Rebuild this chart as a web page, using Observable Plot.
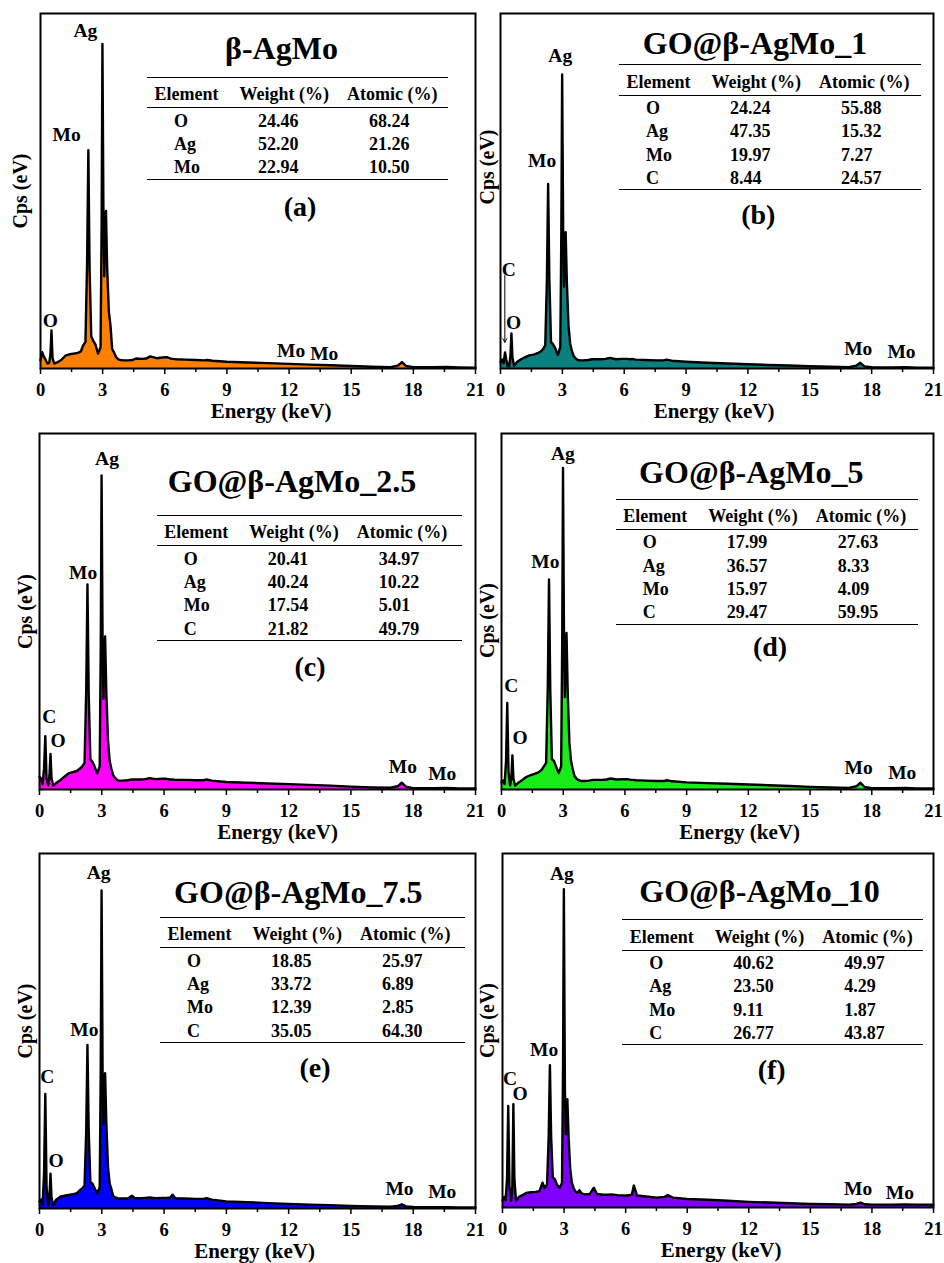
<!DOCTYPE html>
<html>
<head>
<meta charset="utf-8">
<script src="https://cdn.jsdelivr.net/npm/d3@7"></script>
<script src="https://cdn.jsdelivr.net/npm/@observablehq/plot@0.6"></script>
<style>
  html, body { margin: 0; padding: 0; background: #fff; }
  #fig { position: relative; width: 944px; height: 1263px; overflow: hidden; background: #fff;
         font-family: "Liberation Serif", "Times New Roman", "DejaVu Serif", serif; font-weight: bold; color: #000; }
  .panel { position: absolute; }
  .ov { position: absolute; white-space: nowrap; line-height: 1; }
  .rule { position: absolute; height: 0; border-top: 1.6px solid #000; }
</style>
</head>
<body>
<div id="fig"></div>
<script>
// ---------- data ----------
const energy = [0, 0.08, 0.15, 0.22, 0.28, 0.34, 0.42, 0.48, 0.53, 0.58,
  0.66, 0.8, 1.0, 1.2, 1.4, 1.6, 1.8, 1.95, 2.05, 2.17,
  2.25, 2.31, 2.37, 2.45, 2.55, 2.65, 2.78, 2.9, 2.95, 2.99,
  3.04, 3.08, 3.12, 3.16, 3.22, 3.3, 3.38, 3.46, 3.55, 3.65,
  3.75, 3.85, 4.0, 4.25, 4.45, 4.6, 4.9, 5.1, 5.3, 5.6,
  5.9, 6.1, 6.3, 6.4, 6.55, 7.0, 7.5, 7.9, 8.05, 8.3,
  9, 10, 11, 12, 13, 14, 15, 16, 16.9, 17.25,
  17.45, 17.65, 18, 19, 19.6, 20.2, 21];

const countsA = [2.3, 4.6, 3.5, 2.8, 2.0, 1.4, 1.6, 4, 10.7, 3,
  1.4, 1.7, 2.4, 3.6, 4.0, 4.2, 4.4, 4.8, 6.4, 7.5,
  30, 61.5, 28, 9, 7.8, 6.8, 4.2, 6, 40, 91.4,
  42, 26, 40, 44.4, 28, 16, 12, 5.5, 4.5, 3.2,
  2.6, 2.4, 2.3, 2.3, 2.4, 2.8, 2.7, 2.8, 3.4, 2.9,
  3.1, 3.2, 2.8, 2.7, 2.6, 2.5, 2.4, 2.3, 2.4, 2.2,
  1.9, 1.7, 1.5, 1.3, 1.1, 0.9, 0.7, 0.5, 0.4, 0.8,
  1.8, 0.7, 0.4, 0.35, 0.45, 0.3, 0.2];
const countsB = [1.9, 2.5, 1.5, 4.5, 2.5, 0.8, 0.7, 3.5, 9.9, 3,
  0.8, 1.8, 2.6, 3.2, 3.7, 3.9, 4.3, 4.8, 5.3, 6.5,
  25, 52, 25, 7.5, 6.8, 5.8, 3.8, 6, 38, 82.8,
  38, 23, 35, 38.4, 24, 12, 7, 5, 3.5, 2.8,
  2.4, 2.3, 2.3, 2.4, 2.6, 2.6, 2.6, 2.7, 3.0, 2.6,
  2.7, 2.7, 2.6, 2.7, 2.5, 2.4, 2.3, 2.3, 2.5, 2.2,
  1.9, 1.6, 1.4, 1.2, 1.0, 0.85, 0.65, 0.5, 0.4, 0.8,
  1.6, 0.6, 0.35, 0.3, 0.35, 0.25, 0.2];
const countsC = [3.6, 3, 1.5, 6, 15, 3, 1.1, 4, 10, 3,
  1.1, 1.8, 2.6, 3.6, 4.5, 4.9, 5.2, 5.9, 6.4, 7.5,
  28, 57.6, 27, 8.5, 7.8, 6.5, 4.5, 6.5, 40, 88.2,
  40, 25.5, 38, 43, 27, 13.8, 8, 5.9, 4, 3.2,
  2.6, 2.5, 2.5, 2.6, 2.8, 2.8, 2.8, 2.9, 3.2, 2.9,
  3.0, 3.0, 2.8, 2.8, 2.7, 2.7, 2.6, 2.6, 2.8, 2.5,
  2.1, 1.9, 1.7, 1.5, 1.3, 1.1, 0.8, 0.6, 0.5, 0.9,
  1.9, 0.8, 0.4, 0.35, 0.45, 0.3, 0.3];
const countsD = [2, 2.5, 1.5, 8, 24.3, 5, 1.1, 3.5, 9.6, 3,
  1.1, 1.8, 2.6, 3.5, 4.0, 4.4, 4.8, 5.5, 6.4, 7.5,
  29, 59, 28, 8.5, 8, 6.5, 4.6, 6.5, 41, 90.3,
  41, 26, 39, 44, 27, 13.3, 8, 5.8, 3.8, 3,
  2.6, 2.4, 2.4, 2.5, 2.7, 2.7, 2.7, 2.8, 3.1, 2.8,
  2.9, 2.9, 2.7, 2.7, 2.6, 2.5, 2.4, 2.4, 2.6, 2.3,
  2.0, 1.8, 1.6, 1.4, 1.2, 1.0, 0.75, 0.55, 0.45, 0.9,
  1.9, 0.7, 0.4, 0.35, 0.45, 0.3, 0.3];
const countsE = [2, 2.5, 1.2, 10, 32.3, 6, 0.9, 3.5, 9.8, 3,
  0.9, 2.5, 3.3, 3.6, 3.8, 4.0, 4.3, 5.2, 5.6, 6.5,
  22, 46.1, 22, 7.5, 7.0, 5.8, 4.2, 6, 40, 89.6,
  38, 23.8, 34, 38.1, 24, 11.6, 7, 5.5, 3.5, 3.1,
  2.9, 2.8, 2.8, 2.8, 3.6, 2.9, 2.9, 3.0, 3.1, 2.9,
  3.0, 3.0, 3.1, 3.9, 2.9, 2.8, 2.7, 2.7, 2.9, 2.5,
  2.0, 1.8, 1.5, 1.3, 1.1, 0.95, 0.75, 0.6, 0.5, 0.7,
  1.2, 0.6, 0.45, 0.35, 0.4, 0.3, 0.3];
const countsF = [2, 3, 2, 8, 28.7, 6, 1.9, 6, 29.2, 8,
  1.9, 3.0, 3.6, 4.2, 4.3, 4.4, 4.6, 7, 5.5, 6.5,
  20, 40.2, 20, 8.5, 8, 6.5, 5.5, 7, 40, 89.9,
  34, 20.7, 28, 30.6, 20, 10.8, 7, 5.6, 4.5, 4.2,
  4.9, 4.0, 3.7, 3.8, 5.6, 3.8, 3.6, 3.6, 3.7, 3.5,
  3.4, 3.4, 3.6, 6.2, 3.4, 3.1, 2.8, 3.0, 3.5, 2.8,
  2.4, 2.2, 1.9, 1.6, 1.4, 1.2, 1.0, 0.9, 0.8, 1.0,
  1.4, 0.9, 0.8, 0.8, 0.85, 0.8, 0.8];

const titles = ["β-AgMo", "GO@β-AgMo_1", "GO@β-AgMo_2.5", "GO@β-AgMo_5", "GO@β-AgMo_7.5", "GO@β-AgMo_10"];
const letters = ["(a)", "(b)", "(c)", "(d)", "(e)", "(f)"];
const fills = ["#ff8000", "#0a7f7f", "#ff00ff", "#18ec18", "#0000ff", "#8000ff"];

const tableHeader = ["Element", "Weight (%)", "Atomic (%)"];
const elements3 = ["O", "Ag", "Mo"];
const elements4 = ["O", "Ag", "Mo", "C"];
const weightA = [24.46, 52.20, 22.94], atomicA = [68.24, 21.26, 10.50];
const weightB = [24.24, 47.35, 19.97, 8.44], atomicB = [55.88, 15.32, 7.27, 24.57];
const weightC = [20.41, 40.24, 17.54, 21.82], atomicC = [34.97, 10.22, 5.01, 49.79];
const weightD = [17.99, 36.57, 15.97, 29.47], atomicD = [27.63, 8.33, 4.09, 59.95];
const weightE = [18.85, 33.72, 12.39, 35.05], atomicE = [25.97, 6.89, 2.85, 64.30];
const weightF = [40.62, 23.50, 9.11, 26.77], atomicF = [49.97, 4.29, 1.87, 43.87];

// peak annotations: [text, energy (keV), counts]
const labelsA = [["Ag", 2.17, 95.2], ["Mo", 1.26, 65.9], ["O", 0.47, 13.5], ["Mo", 12.1, 5.1], ["Mo", 13.7, 4.1]];
const labelsB = [["Ag", 2.9, 88.2], ["Mo", 2.02, 58.6], ["C", 0.4, 27.8], ["O", 0.64, 13], ["Mo", 17.35, 5.5], ["Mo", 19.45, 4.6]];
const labelsC = [["Ag", 3.25, 92.9], ["Mo", 2.1, 61], ["C", 0.47, 20.3], ["O", 0.9, 13.6], ["Mo", 17.5, 6.3], ["Mo", 19.4, 4.4]];
const labelsD = [["Ag", 2.98, 94.3], ["Mo", 2.13, 63.9], ["C", 0.48, 29.2], ["O", 0.9, 14.5], ["Mo", 17.36, 6.1], ["Mo", 19.48, 4.6]];
const labelsE = [["Ag", 2.85, 94.7], ["Mo", 2.16, 50.3], ["C", 0.37, 37], ["O", 0.8, 13.5], ["Mo", 17.34, 5.5], ["Mo", 19.4, 4.6]];
const labelsF = [["Ag", 2.89, 94.2], ["Mo", 2.03, 44.5], ["C", 0.37, 36.5], ["O", 0.86, 32], ["Mo", 17.33, 5.2], ["Mo", 19.36, 4.3]];
const arrowB = [{x: 0.21, y1: 26.2, y2: 7.4}];

const majorTicks = [0, 3, 6, 9, 12, 15, 18, 21];
const minorTicks = [1.5, 4.5, 7.5, 10.5, 13.5, 16.5, 19.5];

// ---------- layout (pixels) ----------
const layout = [
  {L: 40,  T: 13,  R: 475, B: 368,  title: [241.5, 35],   table: [107, 64.7, 301],   letter: [260, 193.7],   ylab: [-20, 0],     xlab: 13},
  {L: 500, T: 13,  R: 933, B: 368,  title: [255, 30],     table: [119, 52, 302],     letter: [258.3, 202],   ylab: [-13, -24],   xlab: -3},
  {L: 39,  T: 433, R: 475, B: 789,  title: [253, 48],     table: [117.7, 82.7, 305], letter: [271, 233.7],   ylab: [-14, 0],     xlab: 20},
  {L: 501, T: 433, R: 933, B: 789,  title: [250.3, 38.7], table: [114.7, 66.3, 302], letter: [269, 213.7],   ylab: [-13.5, 9],   xlab: 22},
  {L: 39,  T: 853, R: 475, B: 1208, title: [259.3, 38.7], table: [121, 64.7, 305],   letter: [276, 215.3],   ylab: [-14, -10],   xlab: -3},
  {L: 502, T: 853, R: 933, B: 1207, title: [257.5, 38],   table: [120.3, 67, 301],   letter: [269.7, 217],   ylab: [-14.5, -10], xlab: 3}
];

const panels = [
  {counts: countsA, elements: elements3, weight: weightA, atomic: atomicA, labels: labelsA, arrows: []},
  {counts: countsB, elements: elements4, weight: weightB, atomic: atomicB, labels: labelsB, arrows: arrowB},
  {counts: countsC, elements: elements4, weight: weightC, atomic: atomicC, labels: labelsC, arrows: []},
  {counts: countsD, elements: elements4, weight: weightD, atomic: atomicD, labels: labelsD, arrows: []},
  {counts: countsE, elements: elements4, weight: weightE, atomic: atomicE, labels: labelsE, arrows: []},
  {counts: countsF, elements: elements4, weight: weightF, atomic: atomicF, labels: labelsF, arrows: []}
];

const FONT = '"Liberation Serif", "Times New Roman", serif';
const mL = 40, mR = 10, mT = 10, mB = 55;
const fig = document.getElementById("fig");

function addText(parent, txt, x, y, size, align) {
  const d = document.createElement("div");
  d.className = "ov";
  d.textContent = txt;
  d.style.left = x + "px";
  d.style.top = y + "px";
  d.style.fontSize = size + "px";
  d.style.transform = align === "center" ? "translate(-50%, -50%)" : "translate(0, -50%)";
  parent.appendChild(d);
}
function addRule(parent, x, y, w) {
  const d = document.createElement("div");
  d.className = "rule";
  d.style.left = x + "px";
  d.style.top = (y - 0.8) + "px";
  d.style.width = w + "px";
  parent.appendChild(d);
}

panels.forEach((p, i) => {
  const g = layout[i];
  const fw = g.R - g.L, fh = g.B - g.T;
  const data = energy.map((e, k) => ({e, c: p.counts[k]}));
  const labs = p.labels.map(([t, x, y]) => ({t, x, y}));

  const chart = Plot.plot({
    width: mL + fw + mR,
    height: mT + fh + mB,
    marginLeft: mL, marginRight: mR, marginTop: mT, marginBottom: mB,
    x: {domain: [0, 21], label: null},
    y: {domain: [0, 100], axis: null, label: null},
    style: {fontFamily: FONT, fontWeight: "bold", fontSize: "18.5px", background: "transparent", overflow: "visible", color: "black"},
    marks: [
      Plot.areaY(data, {x: "e", y: "c", fill: fills[i], curve: "linear"}),
      Plot.lineY(data, {x: "e", y: "c", stroke: "black", strokeWidth: 2.4, curve: "linear"}),
      Plot.text(labs, {x: "x", y: "y", text: "t", fontSize: 19.5, fontWeight: "bold", fontFamily: FONT, fill: "black"}),
      Plot.arrow(p.arrows, {x1: "x", x2: "x", y1: "y1", y2: "y2", stroke: "black", strokeWidth: 1, headLength: 6}),
      Plot.axisX({ticks: majorTicks, tickSize: 6, tickPadding: 8, tickFormat: d => String(d), label: null,
                  fontSize: 18.5, fontWeight: "bold", fontFamily: FONT, strokeWidth: 1.5}),
      Plot.axisX({ticks: minorTicks, tickSize: 4, tickFormat: () => "", label: null, strokeWidth: 1.5}),
      Plot.text(["Energy (keV)"], {text: d => d, frameAnchor: "bottom", lineAnchor: "middle", textAnchor: "middle",
                  dx: g.xlab, dy: 43, fontSize: 21, fontWeight: "bold", fontFamily: FONT}),
      Plot.text(["Cps (eV)"], {text: d => d, frameAnchor: "left", lineAnchor: "middle", textAnchor: "middle", rotate: -90,
                  dx: g.ylab[0], dy: g.ylab[1], fontSize: 20, fontWeight: "bold", fontFamily: FONT}),
      Plot.frame({stroke: "black", strokeWidth: 2})
    ]
  });

  const div = document.createElement("div");
  div.className = "panel";
  div.style.left = (g.L - mL) + "px";
  div.style.top = (g.T - mT) + "px";
  div.style.width = (mL + fw + mR) + "px";
  div.style.height = (mT + fh + mB) + "px";
  div.appendChild(chart);
  fig.appendChild(div);

  // overlays: title, table, panel letter (positions relative to frame)
  const ox = mL, oy = mT;
  addText(div, titles[i], ox + g.title[0], oy + g.title[1], 32, "center");
  const [tl, tt, tw] = g.table;
  const colHdr = [7.5, 92.5, 200];
  const colVal = [27, 111, 222];
  addRule(div, ox + tl, oy + tt, tw);
  tableHeader.forEach((h, j) => addText(div, h, ox + tl + colHdr[j], oy + tt + 16.5, 18, "left"));
  addRule(div, ox + tl, oy + tt + 30.5, tw);
  let lastY = 0;
  p.elements.forEach((el, r) => {
    const y = oy + tt + 43 + r * 23.3;
    lastY = y;
    addText(div, el, ox + tl + colVal[0], y, 18, "left");
    addText(div, p.weight[r].toFixed(2), ox + tl + colVal[1], y, 18, "left");
    addText(div, p.atomic[r].toFixed(2), ox + tl + colVal[2], y, 18, "left");
  });
  addRule(div, ox + tl, lastY + 12.3, tw);
  addText(div, letters[i], ox + g.letter[0], oy + g.letter[1], 28, "center");
});
</script>
</body>
</html>
